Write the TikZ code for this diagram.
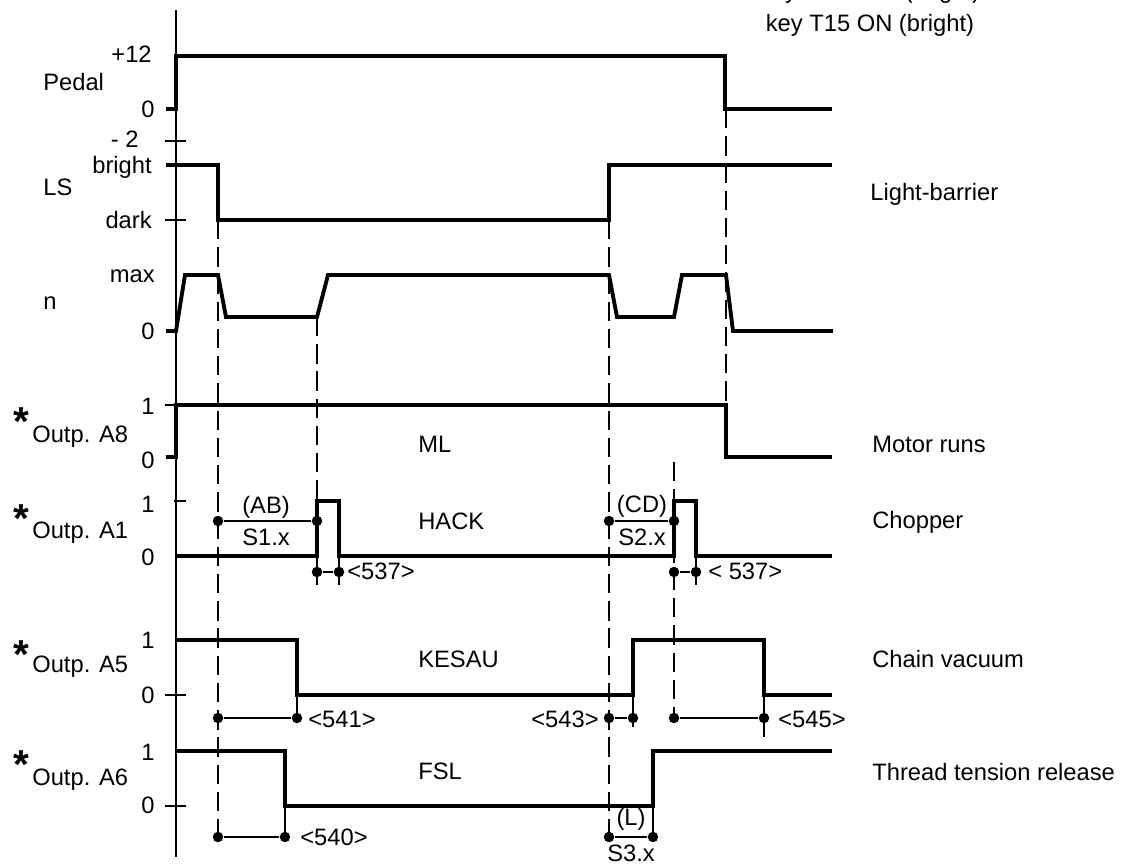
\documentclass[tikz,border=0pt]{standalone}
\usepackage{fontspec}
\setmainfont{Liberation Sans}
\usetikzlibrary{positioning}

\begin{document}
\begin{tikzpicture}[
x=0.02cm, y=-0.02cm,
sig/.style={line width=2.2pt},
fine/.style={line width=0.8pt},
guide/.style={line width=1.2pt, dash pattern=on 11pt off 4.5pt},
dot/.style={circle, fill, inner sep=0pt, minimum size=0.21cm},
lbl/.style={font=\fontsize{13.5}{16}\selectfont, inner sep=0pt},
starlbl/.style={font=\fontsize{23}{24}\selectfont\bfseries, inner sep=0pt, anchor=north west}
]
\useasboundingbox (0,0) rectangle (1125,864);

% time axis and level ticks
\draw[fine] (176,10) -- (176,857);
\draw[fine] (165,141) -- (186,141);
\draw[fine] (165,220) -- (186,220);
\draw[fine] (165,405) -- (176,405);
\draw[fine] (174,501) -- (186,501);
\draw[fine] (165,695) -- (186,695);
\draw[fine] (165,806) -- (186,806);

% signals
\draw[sig] (166,109) -- (176,109) -- (176,56) -- (725,56) -- (725,109) -- (832,109);
\draw[sig] (166,165) -- (218,165) -- (218,220) -- (609,220) -- (609,165) -- (832,165);
\draw[sig] (166,331) -- (176,331) -- (185,275) -- (218,275) -- (226,317) -- (317,317)
  -- (328,275) -- (609,275) -- (617,317) -- (674,317) -- (682,275) -- (726,275) -- (733,331) -- (833,331);
\draw[sig] (166,457) -- (176,457) -- (176,405) -- (726,405) -- (726,457) -- (832,457);
\draw[sig] (176,556) -- (317,556) -- (317,501) -- (339,501) -- (339,556) -- (674,556)
  -- (674,501) -- (696,501) -- (696,556) -- (832,556);
\draw[sig] (176,640) -- (297,640) -- (297,695) -- (633,695) -- (633,640) -- (764,640) -- (764,695) -- (832,695);
\draw[sig] (176,751) -- (285,751) -- (285,806) -- (653,806) -- (653,751) -- (832,751);

% dashed guides
\draw[guide] (218,220) -- (218,837);
\draw[guide] (317,317) -- (317,501);
\draw[guide] (609,220) -- (609,837);
\draw[guide] (726,109) -- (726,405);
\draw[guide] (674,462) -- (674,718);

% edge extensions
\draw[fine] (317,556) -- (317,585);
\draw[fine] (339,556) -- (339,585);
\draw[fine] (696,556) -- (696,585);
\draw[fine] (297,695) -- (297,718);
\draw[fine] (633,695) -- (633,727);
\draw[fine] (764,695) -- (764,737);
\draw[fine] (285,806) -- (285,837);
\draw[fine] (653,806) -- (653,837);

% time spans
\node[dot] (ab1) at (218,521) {};
\node[dot] (ab2) at (317,521) {};
\node[dot] (ha1) at (317,572) {};
\node[dot] (ha2) at (339,572) {};
\node[dot] (cd1) at (609,521) {};
\node[dot] (cd2) at (674,521) {};
\node[dot] (hb1) at (674,572) {};
\node[dot] (hb2) at (696,572) {};
\node[dot] (ka1) at (218,718) {};
\node[dot] (ka2) at (297,718) {};
\node[dot] (kb1) at (609,718) {};
\node[dot] (kb2) at (633,718) {};
\node[dot] (kc1) at (674,718) {};
\node[dot] (kc2) at (764,718) {};
\node[dot] (fa1) at (218,837) {};
\node[dot] (fa2) at (285,837) {};
\node[dot] (fb1) at (609,837) {};
\node[dot] (fb2) at (653,837) {};
\draw[fine] (ab1) -- (ab2);
\draw[fine] (ha1) -- (ha2);
\draw[fine] (cd1) -- (cd2);
\draw[fine] (hb1) -- (hb2);
\draw[fine] (ka1) -- (ka2);
\draw[fine] (kb1) -- (kb2);
\draw[fine] (kc1) -- (kc2);
\draw[fine] (fa1) -- (fa2);
\draw[fine] (fb1) -- (fb2);

% left labels
\node[lbl, anchor=base east] (p12) at (152,63) {+12};
\node[lbl, anchor=base west] (pedal) at (43,91) {Pedal};
\node[lbl, anchor=base east] (p0) at (155,118) {0};
\node[lbl, anchor=base east] (pm2) at (139,148) {- 2};
\node[lbl, anchor=base east] (lsb) at (152,174) {bright};
\node[lbl, anchor=base west] (ls) at (43,196) {LS};
\node[lbl, anchor=base east] (lsd) at (152,229) {dark};
\node[lbl, anchor=base east] (nmax) at (155,283) {max};
\node[lbl, anchor=base west] (n) at (43,310) {n};
\node[lbl, anchor=base east] (n0) at (155,340) {0};

\node[starlbl] (s8) at (13,407) {*};
\node[lbl, anchor=base west] (a8) at (32,442) {Outp. A8};
\node[lbl, anchor=base east] (a8h) at (155,415) {1};
\node[lbl, anchor=base east] (a8l) at (155,468) {0};
\node[starlbl] (s1) at (13,504) {*};
\node[lbl, anchor=base west] (a1) at (32,538) {Outp. A1};
\node[lbl, anchor=base east] (a1h) at (155,512) {1};
\node[lbl, anchor=base east] (a1l) at (155,565) {0};
\node[starlbl] (s5) at (13,640) {*};
\node[lbl, anchor=base west] (a5) at (32,672) {Outp. A5};
\node[lbl, anchor=base east] (a5h) at (155,648) {1};
\node[lbl, anchor=base east] (a5l) at (155,703) {0};
\node[starlbl] (s6) at (13,750) {*};
\node[lbl, anchor=base west] (a6) at (32,785) {Outp. A6};
\node[lbl, anchor=base east] (a6h) at (155,760) {1};
\node[lbl, anchor=base east] (a6l) at (155,813) {0};

% signal names
\node[lbl, anchor=base west] (ml) at (418,453) {ML};
\node[lbl, anchor=base west] (hack) at (418,529) {HACK};
\node[lbl, anchor=base west] (kesau) at (418,667) {KESAU};
\node[lbl, anchor=base west] (fsl) at (418,779) {FSL};

% span labels
\node[lbl, anchor=base] (ab) at (266,513) {(AB)};
\node[lbl, anchor=base] (s1x) at (266,545) {S1.x};
\node[lbl, anchor=base west] (p537a) at (347,579) {<537>};
\node[lbl, anchor=base] (cd) at (642,512) {(CD)};
\node[lbl, anchor=base] (s2x) at (642,545) {S2.x};
\node[lbl, anchor=base west] (p537b) at (708,579) {< 537>};
\node[lbl, anchor=base west] (p541) at (308,727) {<541>};
\node[lbl, anchor=base east] (p543) at (599,727) {<543>};
\node[lbl, anchor=base west] (p545) at (778,727) {<545>};
\node[lbl, anchor=base west] (p540) at (300,845) {<540>};
\node[lbl, anchor=base] (l) at (631,825) {(L)};
\node[lbl, anchor=base] (s3x) at (631,861) {S3.x};

% right labels
\node[lbl, anchor=base] (keyoff) at (870,-1) {key T15 OFF (bright)};
\node[lbl, anchor=base] (keyon) at (870,32) {key T15 ON (bright)};
\node[lbl, anchor=base west] (lb) at (870,201) {Light-barrier};
\node[lbl, anchor=base west] (mr) at (872,453) {Motor runs};
\node[lbl, anchor=base west] (ch) at (872,528) {Chopper};
\node[lbl, anchor=base west] (cv) at (872,667) {Chain vacuum};
\node[lbl, anchor=base west] (tt) at (872,780) {Thread tension release};
\end{tikzpicture}
\end{document}
